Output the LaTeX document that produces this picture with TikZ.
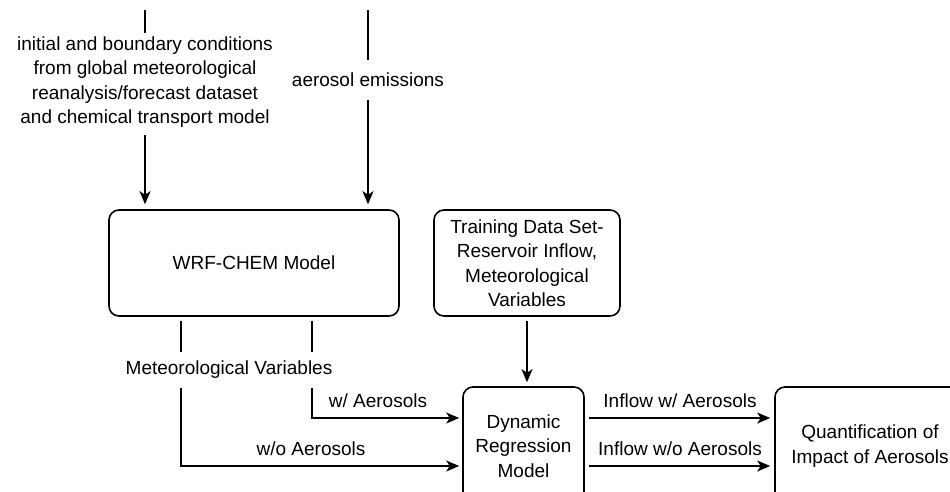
\documentclass[tikz,border=0pt]{standalone}
\usepackage{fontspec}
\setmainfont{Liberation Sans}
\usetikzlibrary{arrows.meta}
\begin{document}
\begin{tikzpicture}[x=1pt, y=-1pt, font=\fontsize{19}{24.5}\selectfont,
    >={Stealth[length=13pt,width=11pt,inset=3.5pt]},
    every path/.style={line width=1.6pt},
    box/.style={draw, rounded corners=10pt, align=center, line width=1.6pt},
    lbl/.style={align=center, inner sep=3pt}]
    \useasboundingbox (0,0) rectangle (950,491);
    % boxes
    \node[box, minimum width=290pt, minimum height=106pt] (wrf) at (254,263) {WRF-CHEM Model};
    \node[box, minimum width=186pt, minimum height=106pt] (train) at (527,263) {Training Data Set-\\Reservoir Inflow,\\Meteorological\\Variables};
    \node[box, minimum width=121pt, minimum height=118pt] (dyn) at (523.5,446) {Dynamic\\Regression\\Model};
    \node[box, minimum width=190pt, minimum height=118pt] (quant) at (870,446) {Quantification of\\Impact of Aerosols};
    % inputs
    \coordinate (icin) at (145,10);
    \coordinate (emin) at (368,10);
    \node[lbl] (iclbl) at (145,82) {initial and boundary conditions\\from global meteorological\\reanalysis/forecast dataset\\and chemical transport model};
    \node[lbl, inner ysep=12pt] (emlbl) at (368,80) {aerosol emissions};
    \draw (icin) -- (iclbl.north);
    \draw[->, shorten >=5pt, shorten <=4pt] (iclbl.south) -- (wrf.north -| iclbl);
    \draw (emin) -- (emlbl.north);
    \draw[->, shorten >=5pt] (emlbl.south) -- (wrf.north -| emlbl);
    % meteorological variables
    \node[lbl, inner ysep=8pt] (metvar) at (229,370) {Meteorological Variables};
    \coordinate (wbend) at (312,418);
    \coordinate (wobend) at (181,466);
    \draw[shorten <=4pt] (wrf.south -| wbend) -- (metvar.north -| wbend);
    \draw[shorten <=4pt] (wrf.south -| wobend) -- (metvar.north -| wobend);
    \draw[->, shorten >=3pt] (metvar.south -| wbend) -- (wbend) -- (dyn.west |- wbend);
    \draw[->, shorten >=3pt] (metvar.south -| wobend) -- (wobend) -- (dyn.west |- wobend);
    \node (wlbl) at (378,401) {w/ Aerosols};
    \node (wolbl) at (311,449) {w/o Aerosols};
    % training data
    \draw[->, shorten <=4pt, shorten >=4pt] (train.south) -- (dyn.north -| train);
    % inflow
    \draw[->, shorten <=4pt, shorten >=4pt] (dyn.east |- wbend) -- (quant.west |- wbend);
    \draw[->, shorten <=4pt, shorten >=4pt] (dyn.east |- wobend) -- (quant.west |- wobend);
    \node (inwlbl) at (680,401) {Inflow w/ Aerosols};
    \node (inwolbl) at (680,449) {Inflow w/o Aerosols};
\end{tikzpicture}
\end{document}
